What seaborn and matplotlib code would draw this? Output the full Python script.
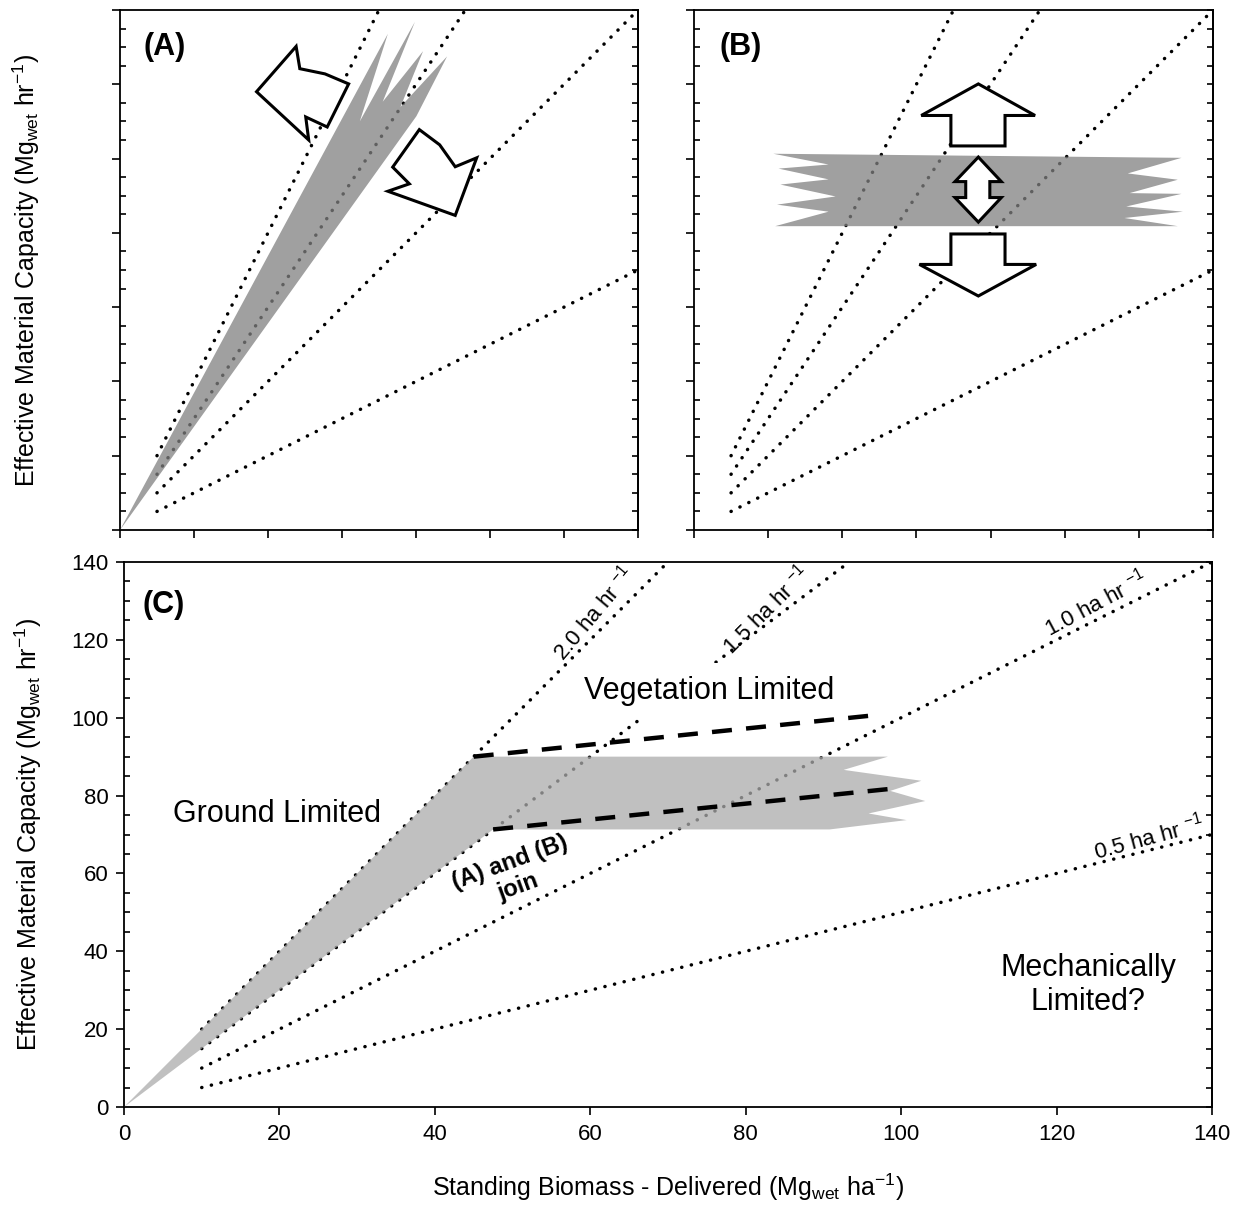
import numpy as np
import pandas as pd
import matplotlib
matplotlib.use("Agg")
import matplotlib.pyplot as plt
import seaborn as sns
from matplotlib.patches import Polygon

# ---------------- data ----------------
rates = [2.0, 1.5, 1.0, 0.5]                      # ha hr-1 (iso-lines y = rate * x)
rate_x_start = [10, 10, 10, 10]
rate_x_end = [70, 93.33, 140, 140]
rate_labels = ["2.0 ha hr $^{-1}$", "1.5 ha hr $^{-1}$", "1.0 ha hr $^{-1}$", "0.5 ha hr $^{-1}$"]
rate_label_x = [60.4, 82.6, 125.0, 131.8]
rate_label_y = [126.8, 127.7, 129.5, 69.4]
rate_label_rot = [50, 45, 28, 15]

# Panel A: ground-limited wedge
a_fill_x = [0, 72.4, 64.8, 79.7, 71.0, 81.9, 75.8, 88.4, 80.1]
a_fill_y = [0, 133.6, 110.0, 136.8, 115.3, 128.9, 113.9, 127.5, 111.4]
a_arrow1_x = [36.9, 47.6, 48.6, 55.4, 61.8, 56.0, 50.2, 51.0]
a_arrow1_y = [118.0, 130.2, 124.2, 122.8, 120.1, 108.5, 111.2, 105.0]
a_arrow2_x = [80.9, 86.4, 90.6, 96.4, 90.6, 72.4, 78.2, 73.7]
a_arrow2_y = [107.8, 103.7, 97.8, 100.2, 84.7, 91.2, 93.2, 97.7]

# Panel B: vegetation-limited band
b_fill_x = [21.4, 131.5, 117.0, 130.5, 117.5, 131.5, 116.6, 131.9, 116.1, 130.5,
            21.9, 36.3, 22.4, 38.2, 23.3, 36.3, 22.8, 36.3]
b_fill_y = [101.3, 100.2, 96.0, 94.3, 90.7, 90.5, 87.1, 85.7, 84.0, 81.8,
            81.8, 85.7, 87.6, 89.8, 93.0, 94.4, 97.3, 98.4]
b_up_x = [76.7, 92.0, 83.9, 83.9, 69.3, 69.3, 61.3]
b_up_y = [120.1, 111.6, 111.6, 103.4, 103.4, 111.6, 111.6]
b_down_x = [69.3, 83.9, 83.9, 92.3, 76.7, 60.8, 69.3]
b_down_y = [79.7, 79.7, 71.5, 71.5, 63.0, 71.5, 71.5]
b_dbl_x = [76.7, 82.9, 79.8, 79.8, 82.9, 76.7, 70.4, 73.3, 73.3, 70.4]
b_dbl_y = [100.4, 93.8, 93.8, 89.5, 89.5, 82.9, 89.5, 89.5, 93.8, 93.8]

# Panel C: combined
c_fill_x = [0, 45, 98.3, 92.6, 102.6, 98.6, 103.1, 95.8, 100.7, 90.8, 47.5]
c_fill_y = [0, 90, 90, 86.6, 83.8, 81.2, 78.6, 75.4, 73.7, 71.3, 71.3]
c_dash_upper_x = [45.0, 96.9]
c_dash_upper_y = [90.0, 100.7]
c_dash_lower_x = [47.5, 99.5]
c_dash_lower_y = [71.3, 81.9]

ticks_major = [0, 20, 40, 60, 80, 100, 120, 140]
ticks_fine = list(range(0, 141, 5))

# ---------------- style ----------------
sns.set_theme(style="ticks", rc={
    "axes.edgecolor": "black", "xtick.color": "black", "ytick.color": "black",
    "text.color": "black", "axes.labelcolor": "black", "axes.linewidth": 1.3,
})
plt.rcParams["font.family"] = ["Liberation Sans", "DejaVu Sans"]
plt.rcParams["mathtext.fontset"] = "custom"
plt.rcParams["mathtext.rm"] = "Liberation Sans"
plt.rcParams["mathtext.it"] = "Liberation Sans:italic"
plt.rcParams["mathtext.bf"] = "Liberation Sans:bold"
plt.rcParams["mathtext.default"] = "regular"

fig = plt.figure(figsize=(12.37, 12.05), dpi=100)
axA = fig.add_axes([120 / 1237, 1 - 530 / 1205, 518 / 1237, 520 / 1205])
axB = fig.add_axes([694 / 1237, 1 - 530 / 1205, 519 / 1237, 520 / 1205])
axC = fig.add_axes([124 / 1237, 1 - 1107 / 1205, 1088 / 1237, 545 / 1205])

DOT = (0, (0.05, 2.8))
ylab = "Effective Material Capacity (Mg$_{wet}$ hr$^{-1}$)"


def style_axes(ax, labels):
    ax.set_xlim(0, 140)
    ax.set_ylim(0, 140)
    ax.set_xticks(ticks_major)
    ax.set_yticks(ticks_major)
    ax.set_yticks(ticks_fine, minor=True)
    ax.tick_params(axis="x", which="major", direction="out", length=6, width=1.2,
                   bottom=True, top=False, labelbottom=labels, labelsize=16, pad=6)
    ax.tick_params(axis="x", which="minor", bottom=False, top=False)
    ax.tick_params(axis="y", which="major", direction="out", length=6, width=1.2,
                   left=True, right=False, labelleft=labels, labelsize=16, pad=5)
    ax.tick_params(axis="y", which="minor", direction="in", length=4, width=1.2,
                   left=True, right=False)
    for s in ax.spines.values():
        s.set_visible(True)
        s.set_linewidth(1.3)
    sec = ax.secondary_yaxis("right")
    sec.set_yticks(ticks_fine)
    sec.tick_params(direction="in", length=4, width=1.2, labelright=False)
    sec.spines["right"].set_linewidth(1.3)


def draw_rate_lines(ax):
    for r, x0, x1 in zip(rates, rate_x_start, rate_x_end):
        df = pd.DataFrame({"x": [x0, x1], "y": [r * x0, r * x1]})
        sns.lineplot(data=df, x="x", y="y", ax=ax, color="black", lw=2.5,
                     linestyle=DOT, dash_capstyle="round", sort=False,
                     estimator=None, legend=False, zorder=2)


def draw_shape(ax, xs, ys, zorder=6):
    ax.add_patch(Polygon(np.column_stack([xs, ys]), closed=True, facecolor="white",
                         edgecolor="black", lw=2.2, joinstyle="miter", zorder=zorder))


# ---------- Panel A ----------
draw_rate_lines(axA)
axA.fill(a_fill_x, a_fill_y, color="#808080", alpha=0.75, lw=0, zorder=3)
draw_shape(axA, a_arrow1_x, a_arrow1_y)
draw_shape(axA, a_arrow2_x, a_arrow2_y)
axA.text(6.4, 130, "(A)", fontsize=22, fontweight="bold", ha="left", va="center")
style_axes(axA, False)
axA.set_xlabel("")
axA.set_ylabel(ylab, fontsize=18)
axA.yaxis.set_label_coords(-0.150, 0.5)

# ---------- Panel B ----------
draw_rate_lines(axB)
axB.fill(b_fill_x, b_fill_y, color="#808080", alpha=0.75, lw=0, zorder=3)
draw_shape(axB, b_up_x, b_up_y)
draw_shape(axB, b_down_x, b_down_y)
draw_shape(axB, b_dbl_x, b_dbl_y)
axB.text(7.0, 130, "(B)", fontsize=22, fontweight="bold", ha="left", va="center")
style_axes(axB, False)
axB.set_xlabel("")
axB.set_ylabel("")

# ---------- Panel C ----------
draw_rate_lines(axC)
axC.fill(c_fill_x, c_fill_y, color="#ababab", alpha=0.75, lw=0, zorder=3)
for xs, ys in [(c_dash_upper_x, c_dash_upper_y), (c_dash_lower_x, c_dash_lower_y)]:
    sns.lineplot(x=xs, y=ys, ax=axC, color="black", lw=3.2,
                 linestyle=(0, (4.5, 3.2)), sort=False, estimator=None,
                 legend=False, zorder=5)
for lab, lx, ly, rot in zip(rate_labels, rate_label_x, rate_label_y, rate_label_rot):
    axC.text(lx, ly, lab, fontsize=16, rotation=rot, ha="center", va="center",
             rotation_mode="anchor", zorder=6)
axC.text(2.4, 129, "(C)", fontsize=22, fontweight="bold", ha="left", va="center")
axC.text(19.7, 75.3, "Ground Limited", fontsize=22, ha="center", va="center", zorder=6)
axC.text(75.3, 106.9, "Vegetation Limited", fontsize=22, ha="center", va="center", zorder=4,
         bbox=dict(facecolor="white", edgecolor="none", pad=9))
axC.text(124.1, 31.3, "Mechanically\nLimited?", fontsize=22, ha="center", va="center",
         multialignment="center", linespacing=1.15)
axC.text(50.2, 59.6, "(A) and (B)\njoin", fontsize=17, fontweight="bold", rotation=20,
         ha="center", va="center", rotation_mode="anchor", multialignment="center",
         linespacing=1.15, zorder=6)
style_axes(axC, True)
axC.set_xlabel("Standing Biomass - Delivered (Mg$_{wet}$ ha$^{-1}$)", fontsize=18)
axC.set_ylabel(ylab, fontsize=18)
axC.yaxis.set_label_coords(-0.0735, 0.5)
axC.xaxis.set_label_coords(0.5, -0.118)

fig.savefig("out.png", dpi=100)
